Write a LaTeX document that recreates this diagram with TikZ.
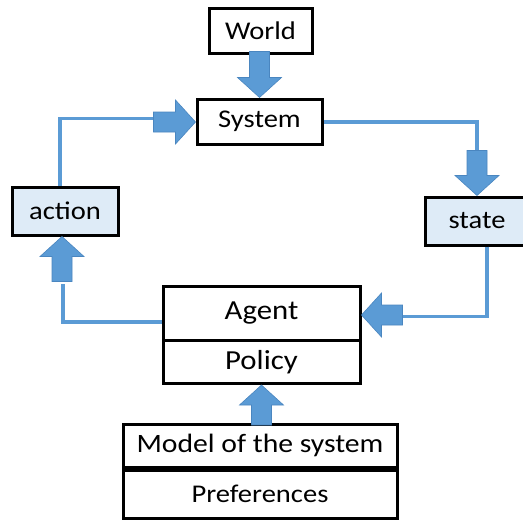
\documentclass[tikz,border=0pt]{standalone}
\usepackage{fontspec}
\setmainfont[FakeStretch=1.12]{Carlito}
\usetikzlibrary{calc}
\definecolor{lineblue}{HTML}{5B9BD5}
\definecolor{arrowblue}{HTML}{5B9BD5}
\definecolor{arrowedge}{HTML}{4A86C0}
\definecolor{boxfill}{HTML}{DEEBF7}
\newcommand{\fatarr}[3]{%
  \draw[fatarrow, shift={(#1)}, rotate=#2]
    (0,0) -- (-20,22) -- (-20,10) -- (-#3,10) -- (-#3,-10) -- (-20,-10) -- (-20,-22) -- cycle;}
\begin{document}
\begin{tikzpicture}[x=1pt,y=1pt,
  box/.style={draw=black, line width=3pt, fill=white, inner sep=0pt, text=black},
  smallfont/.style={font=\fontsize{25.5}{29}\selectfont},
  bigfont/.style={font=\fontsize{27.5}{31}\selectfont},
  conn/.style={draw=lineblue, line width=3.2pt},
  fatarrow/.style={fill=arrowblue, draw=arrowedge, line width=0.6pt, line join=miter}]
\useasboundingbox (0,0) rectangle (523,-523);
\fill[white] (0,0) rectangle (523,-523);
% nodes
\node[box, smallfont, minimum width=103, minimum height=45] (world) at (260.5,-30.5) {World};
\node[box, smallfont, minimum width=125, minimum height=45] (system) at (259.5,-121.5) {System};
\node[box, smallfont, fill=boxfill, minimum width=106, minimum height=48] (action) at (65,-211) {action};
\node[box, smallfont, fill=boxfill, minimum width=104, minimum height=48] (state) at (477,-221) {state};
\node[box, bigfont, minimum width=197, minimum height=54] (agent) at (261.5,-313) {Agent};
\node[box, bigfont, minimum width=197, minimum height=43] (policy) at (261.5,-362) {Policy};
\node[box, font=\fontsize{26.5}{30}\selectfont, minimum width=274, minimum height=43] (model) at (260,-445.5) {Model of the system};
\node[box, smallfont, minimum width=274, minimum height=48] (prefs) at (260,-494) {Preferences};
% connector corners
\coordinate (sysR) at ($(system.east)+(0,-0.5)$);
\coordinate (c1) at (sysR -| state.north);
\coordinate (stB) at ($(state.south)+(10,0)$);
\coordinate (c2) at ($(stB)+(0,-70)$);
\coordinate (agL) at ($(agent.west)+(0,-9)$);
\coordinate (c3) at (agL -| {$(action.south)+(-2,0)$});
\coordinate (acT) at ($(action.north)+(-5,0)$);
\coordinate (c4) at ($(acT)+(0,67)$);
% thin connectors
\draw[conn] (sysR) -- (c1) -- ($(state.north)+(0,45)$);
\draw[conn] (stB) -- (c2) -- ($(c2)+(-86,0)$);
\draw[conn] (agL) -- (c3) -- ($(action.south)+(-2,-47)$);
\draw[conn] (acT) -- (c4) -- ($(c4)+(97,0)$);
% fat arrows
\fatarr{system.north}{-90}{46}
\fatarr{$(system.west)+(0,-0.5)$}{0}{42}
\fatarr{state.north}{-90}{45}
\fatarr{$(agent.east)+(0,-2)$}{180}{41}
\fatarr{$(action.south)+(-3,0)$}{90}{45}
\fatarr{policy.south}{90}{40}
\end{tikzpicture}
\end{document}
